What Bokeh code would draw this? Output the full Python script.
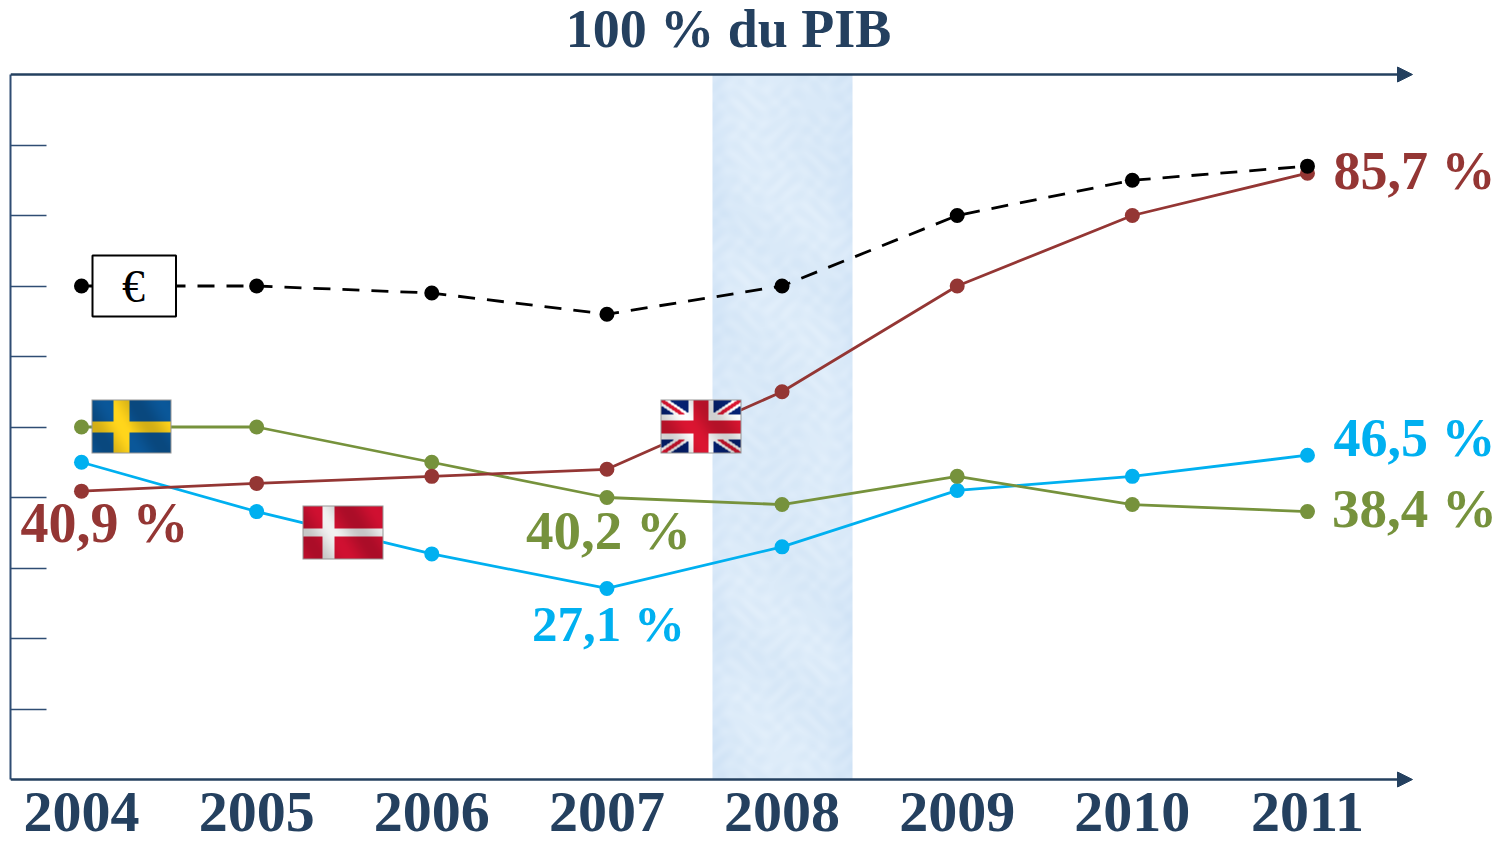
import numpy as np
from bokeh.embed import file_html
from bokeh.resources import INLINE
from bokeh.plotting import figure
from bokeh.models import Arrow, NormalHead, Label, FixedTicker, Range1d, BoxAnnotation

years = [2004, 2005, 2006, 2007, 2008, 2009, 2010, 2011]
euro = [70, 70, 69, 66, 70, 80, 85, 87]
uk = [40.9, 42, 43, 44, 55, 70, 80, 86]
sweden = [50, 50, 45, 40, 39, 43, 39, 38]
denmark = [45, 38, 32, 27.1, 33, 41, 43, 46]
y_ticks = [10, 20, 30, 40, 50, 60, 70, 80, 90]

NAVY = "#24405f"
RED = "#943634"
GREEN = "#76923c"
BLUE = "#00b0f0"
FONT = "Liberation Serif"

PXX = 175.14
PXY = 7.05


def dx(px):  # page pixel to data
    return 2004 + (px - 82) / PXX


def dy(py):
    return (779 - py) / PXY


FRAME_TOP = 4
FRAME_BOTTOM = 790

p = figure(width=1505, height=845, output_backend="svg", toolbar_location=None,
           x_range=Range1d(dx(11), dx(1506)), y_range=Range1d(dy(FRAME_BOTTOM), dy(FRAME_TOP)),
           min_border_left=10, min_border_right=0, min_border_top=FRAME_TOP,
           min_border_bottom=845 - FRAME_BOTTOM,
           outline_line_color=None, background_fill_color="white", border_fill_color="white")
p.grid.visible = False

# y axis: inward ticks only
ya = p.yaxis[0]
ya.ticker = FixedTicker(ticks=y_ticks)
ya.bounds = (0, 100)
ya.axis_line_color = "#2f4d73"
ya.axis_line_width = 2
ya.major_tick_line_color = "#2f4d73"
ya.major_tick_line_width = 1.5
ya.major_tick_in = 36
ya.major_tick_out = 0
ya.minor_tick_line_color = None
ya.major_label_overrides = {t: "" for t in y_ticks}
ya.major_label_standoff = 0

# x axis: year labels only
xa = p.xaxis[0]
xa.ticker = FixedTicker(ticks=years)
xa.major_label_overrides = {y: str(y) for y in years}
xa.axis_line_color = None
xa.major_tick_line_color = None
xa.minor_tick_line_color = None
xa.major_label_text_font = FONT
xa.major_label_text_font_size = "58px"
xa.major_label_text_font_style = "bold"
xa.major_label_text_color = NAVY
xa.major_label_standoff = -4


def rgba(r, g, b, a=None):
    a = np.full(r.shape, 255) if a is None else a
    return (a.astype(np.uint32) << 24 | np.clip(b, 0, 255).astype(np.uint32) << 16 |
            np.clip(g, 0, 255).astype(np.uint32) << 8 | np.clip(r, 0, 255).astype(np.uint32))


def texture(w, h):
    yy, xx = np.mgrid[0:h, 0:w]
    m = (np.sin(xx / 3.1 + np.sin(yy / 9.0) * 3) + np.sin(yy / 2.7 + np.sin(xx / 11.0) * 4) +
         np.sin(xx / 23.0 - yy / 37.0 + np.sin(yy / 61.0) * 2) * 1.5) / 3.5
    edge = np.minimum(1, np.minimum(xx, w - 1 - xx) / 25.0)
    r = 214 + 6 * edge + 6 * m
    g = 231 + 4 * edge + 4 * m
    b = 248 + 1 * edge + 2 * m
    return rgba(r, g, b)


def flag(base_fn, w=81, h=54):
    yy, xx = np.mgrid[0:h, 0:w]
    img = np.zeros((h, w, 3), float)
    base_fn(xx, yy, img)
    gloss = 1 + 0.10 * np.sin((xx - yy * 0.6) / 9.0)
    img *= gloss[..., None]
    img[[0, -1], :] = (150, 150, 150)
    img[:, [0, -1]] = (150, 150, 150)
    return rgba(img[..., 0], img[..., 1], img[..., 2])[::-1]


def se(x, y, im):
    im[:] = (10, 80, 140)
    m = ((x >= 22) & (x < 38)) | ((y >= 22) & (y < 33))
    im[m] = (235, 195, 25)


def dk(x, y, im):
    im[:] = (190, 15, 45)
    m = ((x >= 20) & (x < 32)) | ((y >= 23) & (y < 31))
    im[m] = (220, 220, 220)


def gb(x, y, im):
    im[:] = (5, 30, 105)
    u = (x - 40) / 40.0
    v = (y - 27) / 27.0
    d1 = np.abs(u - v)
    d2 = np.abs(u + v)
    im[(d1 < 0.2) | (d2 < 0.2)] = (232, 232, 232)
    im[(d1 < 0.08) | (d2 < 0.08)] = (200, 20, 45)
    im[(np.abs(x - 40) < 13) | (np.abs(y - 27) < 13)] = (232, 232, 232)
    im[(np.abs(x - 40) < 8) | (np.abs(y - 27) < 7)] = (200, 20, 45)


# crisis band
p.image_rgba(image=[texture(140, 705)[::-1]], x=dx(713), y=0, dw=dx(853) - dx(713), dh=100)

# series
for vals, col, dash in [(denmark, BLUE, "solid"), (sweden, GREEN, "solid"),
                        (uk, RED, "solid"), (euro, "black", "17 12")]:
    p.line(years, vals, line_color=col, line_width=2.8, line_dash=dash)
    p.scatter(years, vals, size=15, fill_color=col, line_color=col, line_width=0)

# flags
for fn, x0, x1, y0, y1 in [(se, 92, 172, 399, 453), (dk, 303, 384, 505, 559), (gb, 661, 742, 399, 453)]:
    p.image_rgba(image=[flag(fn)], x=dx(x0), y=dy(y1), dw=dx(x1) - dx(x0), dh=dy(y0) - dy(y1))

# euro box
p.add_layout(BoxAnnotation(left=dx(93), right=dx(176.5), top=dy(255), bottom=dy(316),
                           fill_color="white", fill_alpha=1, line_color="black", line_alpha=1,
                           line_width=2))

# axis arrows
for yv in (0, 100):
    p.add_layout(Arrow(end=NormalHead(size=15, fill_color=NAVY, line_color=NAVY),
                       x_start=dx(11), y_start=yv, x_end=dx(1413), y_end=yv,
                       line_color=NAVY, line_width=2.5))

# title and value labels (anchor lifted by BL em so that the baseline lands at "by")
BL = 0.39
for txt, cx, by, col, fs, st in [("100 % du PIB", 729, 50, NAVY, 54, "bold"),
                                 ("€", 134, 304, "black", 46, "normal"),
                                 ("85,7 %", 1415, 192, RED, 54, "bold"),
                                 ("46,5 %", 1415, 459, BLUE, 54, "bold"),
                                 ("38,4 %", 1415, 529, GREEN, 55, "bold"),
                                 ("40,9 %", 105, 544, RED, 56, "bold"),
                                 ("40,2 %", 609, 551, GREEN, 55, "bold"),
                                 ("27,1 %", 609, 643, BLUE, 51, "bold")]:
    p.add_layout(Label(x=dx(cx), y=dy(by - BL * fs), text=txt, text_font=FONT,
                       text_font_size=f"{fs}px", text_font_style=st,
                       text_color=col, text_align="center", text_baseline="alphabetic"))

open("out.html", "w").write(file_html(p, INLINE))
